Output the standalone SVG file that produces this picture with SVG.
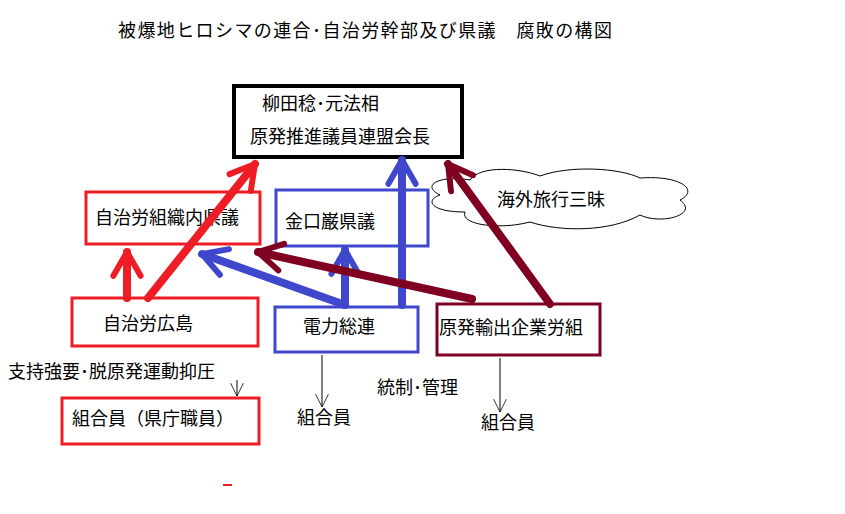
<svg xmlns="http://www.w3.org/2000/svg" width="845" height="514" viewBox="0 0 845 514">
<style>
text{font-family:"Noto Sans CJK JP","Noto Sans CJK SC",sans-serif;font-size:18px;fill:#000}
.b{fill:#fff;stroke-width:3}
.a{fill:none;stroke-width:8;stroke-linecap:round}
</style>
<defs>
<marker id="hr" viewBox="0 0 20 20" refX="18" refY="10" markerWidth="34" markerHeight="34" markerUnits="userSpaceOnUse" orient="auto"><polyline points="4,2 18,10 4,18" fill="none" stroke="#ee1c24" stroke-width="3.5" stroke-linecap="round"/></marker>
<marker id="hb" viewBox="0 0 20 20" refX="18" refY="10" markerWidth="34" markerHeight="34" markerUnits="userSpaceOnUse" orient="auto"><polyline points="4,2 18,10 4,18" fill="none" stroke="#3f48cc" stroke-width="3.5" stroke-linecap="round"/></marker>
<marker id="hd" viewBox="0 0 20 20" refX="18" refY="10" markerWidth="34" markerHeight="34" markerUnits="userSpaceOnUse" orient="auto"><polyline points="4,2 18,10 4,18" fill="none" stroke="#7f0020" stroke-width="3.5" stroke-linecap="round"/></marker>
<marker id="thin" viewBox="0 0 20 20" refX="18" refY="10" markerWidth="16" markerHeight="16" markerUnits="userSpaceOnUse" orient="auto"><polyline points="2,2 18,10 2,18" fill="none" stroke="#000" stroke-width="1"/></marker>
</defs>
<rect width="845" height="514" fill="#fff"/>
<text x="118" y="37" textLength="494" lengthAdjust="spacing">被爆地ヒロシマの連合･自治労幹部及び県議　腐敗の構図</text>
<g id="cloud">
<path d="M440,195 C420,185 440,175 470,180 C480,165 520,168 540,176 C570,165 620,168 640,178 C680,175 700,190 680,200 C700,215 660,225 640,215 C610,232 560,232 530,222 C500,230 460,225 465,212 C430,212 425,200 440,195 Z" fill="#fff" stroke="#000" stroke-width="1"/>
<text x="497" y="206" font-size="15">海外旅行三昧</text>
</g>
<g id="n-yanagita"><rect x="234" y="86" width="228" height="71" fill="#fff" stroke="#000" stroke-width="4"/><text x="262" y="110">柳田稔･元法相</text><text x="250" y="143">原発推進議員連盟会長</text></g>
<g id="n-jichirou-kengi"><rect class="b" x="86" y="192" width="174" height="52" stroke="#ee1c24"/><text x="95" y="224">自治労組織内県議</text></g>
<g id="n-kaneguchi"><rect class="b" x="276" y="190" width="152" height="56" stroke="#3f48cc"/><text x="285" y="228">金口巌県議</text></g>
<g id="n-jichirou"><rect class="b" x="72" y="298" width="186" height="48" stroke="#ee1c24"/><text x="103" y="330">自治労広島</text></g>
<g id="n-denryoku"><rect class="b" x="275" y="307" width="143" height="45" stroke="#3f48cc"/><text x="303" y="333">電力総連</text></g>
<g id="n-genpatsu"><rect class="b" x="437" y="304" width="163" height="51" stroke="#7f0020"/><text x="439" y="334">原発輸出企業労組</text></g>
<g id="n-kumiai-ken"><rect class="b" x="62" y="398" width="197" height="46" stroke="#ee1c24"/><text x="72" y="425">組合員（県庁職員）</text></g>
<g id="n-kumiai1"><text x="297" y="424">組合員</text></g>
<g id="n-kumiai2"><text x="481" y="429">組合員</text></g>
<text x="8" y="378">支持強要･脱原発運動抑圧</text>
<text x="377" y="394">統制･管理</text>
<g id="connectors">
<line class="a" stroke="#ee1c24" x1="127" y1="298" x2="127" y2="252" marker-end="url(#hr)"/>
<line class="a" stroke="#ee1c24" x1="148" y1="298" x2="255" y2="164" marker-end="url(#hr)"/>
<line class="a" stroke="#3f48cc" x1="345" y1="305" x2="202" y2="254" marker-end="url(#hb)"/>
<line class="a" stroke="#3f48cc" x1="345" y1="305" x2="345" y2="250" marker-end="url(#hb)"/>
<line class="a" stroke="#3f48cc" x1="402" y1="305" x2="402" y2="160" marker-end="url(#hb)"/>
<line class="a" stroke="#7f0020" x1="472" y1="299" x2="258" y2="252" marker-end="url(#hd)"/>
<line class="a" stroke="#7f0020" x1="550" y1="304" x2="448" y2="164" marker-end="url(#hd)"/>
<line stroke="#000" stroke-width="1" x1="322" y1="355" x2="322" y2="407" marker-end="url(#thin)"/>
<line stroke="#000" stroke-width="1" x1="500" y1="358" x2="500" y2="412" marker-end="url(#thin)"/>
<line stroke="#000" stroke-width="1" x1="237" y1="380" x2="237" y2="396" marker-end="url(#thin)"/>
</g>
<line x1="223" y1="485" x2="232" y2="485" stroke="#ee1c24" stroke-width="2"/>
</svg>
